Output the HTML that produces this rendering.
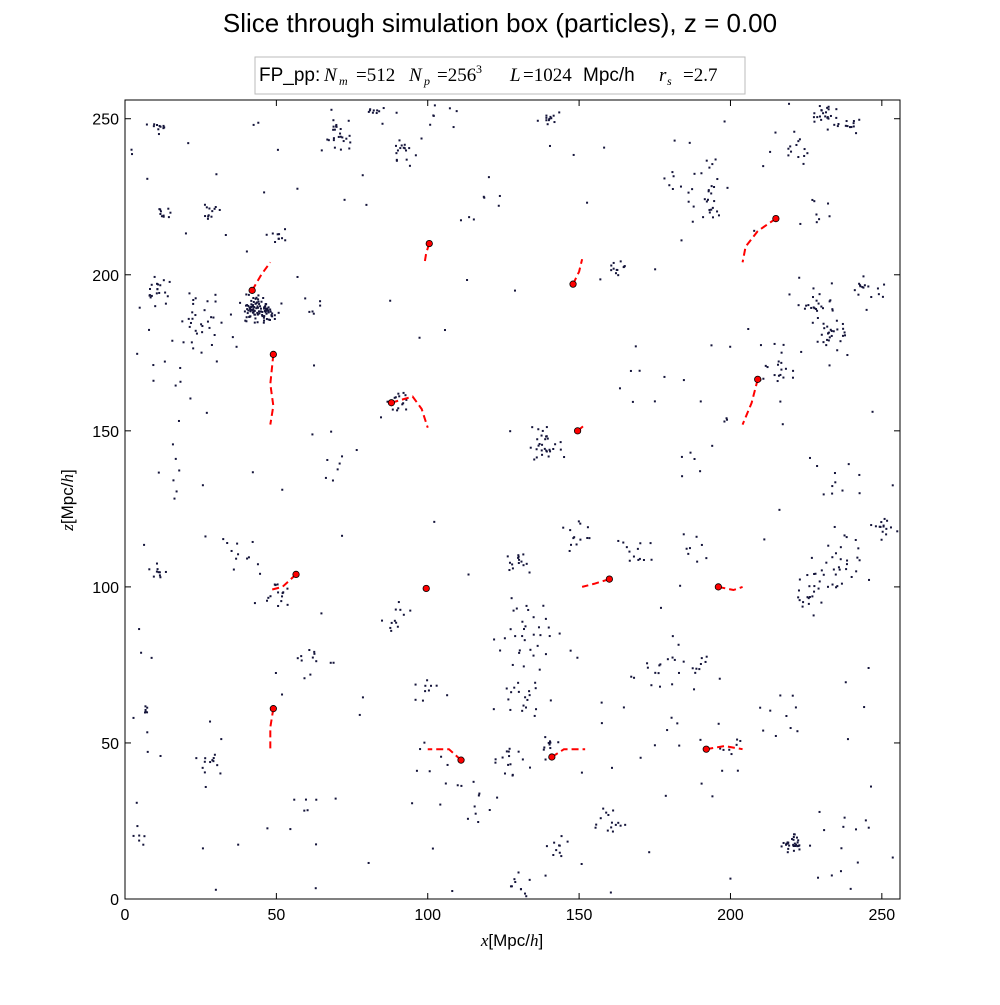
<!DOCTYPE html>
<html><head><meta charset="utf-8"><style>
body{margin:0;background:#fff;}
svg text{font-family:"Liberation Sans",sans-serif;}
.m{font-family:"Liberation Serif",serif;font-style:italic;}
.s{font-family:"Liberation Serif",serif;}
</style></head><body>
<svg id="chart" width="1000" height="1000" xmlns="http://www.w3.org/2000/svg">
<rect width="1000" height="1000" fill="#fff"/>
<text x="500" y="32" text-anchor="middle" font-size="26">Slice through simulation box (particles), z = 0.00</text>
<g font-size="19">
<rect x="255" y="57" width="490" height="37" fill="#fff" stroke="#bbb"/>
<text x="259" y="81">FP_pp:</text>
<text class="m" x="324" y="81">N</text><text class="m" x="339" y="85" font-size="12">m</text>
<text class="s" x="356" y="81">=512</text>
<text class="m" x="409" y="81">N</text><text class="m" x="424" y="85" font-size="12">p</text>
<text class="s" x="437" y="81">=256</text><text class="s" x="476" y="73" font-size="12">3</text>
<text class="m" x="510" y="81">L</text>
<text class="s" x="523" y="81">=1024</text>
<text x="583" y="81">Mpc/h</text>
<text class="m" x="659" y="81">r</text><text class="m" x="667" y="85" font-size="12">s</text>
<text class="s" x="683" y="81">=2.7</text>
</g>
<g id="plot"></g>
<text x="512" y="946" text-anchor="middle" font-size="17"><tspan class="m">x</tspan>[Mpc/<tspan class="m">h</tspan>]</text>
<text transform="translate(73,500) rotate(-90)" text-anchor="middle" font-size="17"><tspan class="m">z</tspan>[Mpc/<tspan class="m">h</tspan>]</text>
</svg>
<script>
const xTicks=[0,50,100,150,200,250];
const yTicks=[0,50,100,150,200,250];
// clusters: [x, z, count, spread]
const clusterX=[42,47,10,26,50,70,83,92,28,13,11,140,232,240,223,190,163,228,233,245,215,138,90,130,133,133,150,170,175,188,237,250,228,220,160,143,128,140,130,50,28,11,7,89,100,60,40,70,200,215,240,5,115,195,105,60,235,190,175,120,16,230,12,100,20,180,60];
const clusterZ=[189,188,195,187,212,245,252,240,220,220,247,250,251,248,240,226,202,190,181,193,170,145,160,108,85,65,115,110,75,75,105,120,98,18,25,17,45,50,5,97,43,105,60,90,68,75,110,140,50,60,20,20,30,150,250,190,135,113,170,225,160,220,180,40,130,50,25];
const clusterN=[60,40,20,30,10,25,10,15,10,10,10,12,25,10,12,35,12,25,25,15,20,30,15,15,30,20,12,12,15,10,30,15,20,30,15,10,15,10,10,15,12,10,6,10,10,12,10,8,8,8,8,6,10,8,8,8,10,8,6,6,6,8,8,8,6,6,6];
const clusterS=[3,2,3,6,2,4,2,3,2,2,1.5,2,3,2,3,7,2,5,4,4,5,4,3,3,8,6,4,4,6,3,8,3,4,2,3,3,4,3,3,4,3,2,1.5,3,4,6,5,8,4,6,6,3,6,8,6,6,6,6,8,8,10,5,8,6,10,6,10];
const noiseN=160;
// red markers
const redX=[42,100.5,49,88,148,149.5,215,209,56.5,99.5,160,196,49,111,141,192];
const redZ=[195,210,174.5,159,197,150,218,166.5,104,99.5,102.5,100,61,44.5,45.5,48];
const tracks=[[[42,195],[45,200],[48,204]],[[100.5,210],[99.5,207],[99,204]],[[49,174.5],[48,165],[49,158],[48,152]],[[88,159],[95,161],[98,157],[100,151]],[[148,197],[150,201],[151,205]],[[149.5,150],[152,152]],[[215,218],[209,214],[205,209],[204,204]],[[209,166.5],[207,159],[204,152]],[[56.5,104],[52,100],[48,99]],[],[[160,102.5],[155,101],[151,100]],[[196,100],[201,99],[204,100]],[[49,61],[48,55],[48,48]],[[111,44.5],[107,48],[100,48]],[[141,45.5],[145,48],[152,48]],[[192,48],[198,49],[204,48]]];
const X0=125,X1=900,Y0=899,Y1=100,DMAX=256;
const sx=v=>X0+(X1-X0)*v/DMAX, sy=v=>Y0-(Y0-Y1)*v/DMAX;
const NS="http://www.w3.org/2000/svg";
const g=document.getElementById('plot');
function mk(t,a,p){const e=document.createElementNS(NS,t);for(const k in a)e.setAttribute(k,a[k]);(p||g).appendChild(e);return e;}
let seed=12345;function rnd(){seed=(seed*1103515245+12345)%2147483648;return seed/2147483648;}
function gauss(){return (rnd()+rnd()+rnd()-1.5)*1.4;}
const pg=mk('g',{});


for(let i=0;i<clusterX.length;i++){for(let j=0;j<clusterN[i];j++){const x=clusterX[i]+gauss()*clusterS[i],z=clusterZ[i]+gauss()*clusterS[i];if(x<0||x>DMAX||z<0||z>DMAX)continue;
const r=mk('rect',{x:sx(x)-1,y:sy(z)-1,width:2,height:2,fill:'#14143a'},pg);

}}
for(let j=0;j<noiseN;j++){const x=rnd()*DMAX,z=rnd()*DMAX;
const r=mk('rect',{x:sx(x)-1,y:sy(z)-1,width:2,height:2,fill:'#14143a'},pg);

}
tracks.forEach(t=>{if(!t.length)return;
const p=mk('polyline',{points:t.map(q=>sx(q[0])+','+sy(q[1])).join(' '),fill:'none',stroke:'#f00','stroke-width':2,'stroke-dasharray':'7,4'});

});
for(let i=0;i<redX.length;i++){const c=mk('circle',{cx:sx(redX[i]),cy:sy(redZ[i]),r:3.2,fill:'#f00',stroke:'#000','stroke-width':0.8});

}
const fr=mk('rect',{x:X0,y:Y1,width:X1-X0,height:Y0-Y1,fill:'none',stroke:'#000','stroke-width':1});


xTicks.forEach(v=>{const x=sx(v);mk('line',{x1:x,x2:x,y1:Y0,y2:Y0-6,stroke:'#000'});mk('line',{x1:x,x2:x,y1:Y1,y2:Y1+6,stroke:'#000'});
const t=mk('text',{x:x,y:Y0+21,'text-anchor':'middle','font-size':16});t.textContent=v;

});
yTicks.forEach(v=>{const y=sy(v);mk('line',{x1:X0,x2:X0+6,y1:y,y2:y,stroke:'#000'});mk('line',{x1:X1,x2:X1-6,y1:y,y2:y,stroke:'#000'});
const t=mk('text',{x:X0-6,y:y+6,'text-anchor':'end','font-size':16});t.textContent=v;

});
</script>
</body></html>
